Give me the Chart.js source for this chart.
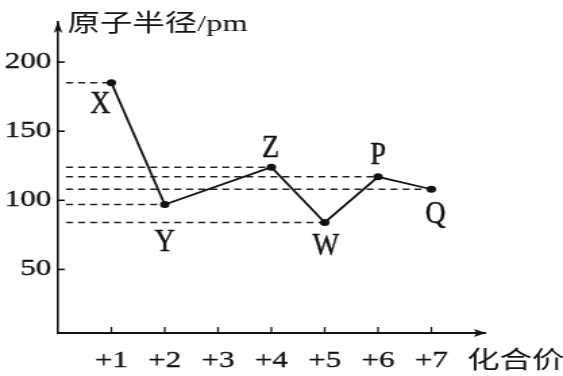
<!DOCTYPE html>
<html>
<head>
<meta charset="utf-8">
<script src="https://cdn.jsdelivr.net/npm/chart.js@4/dist/chart.umd.min.js"></script>
<style>
html, body { margin: 0; padding: 0; background: #fff; overflow: hidden; }
#c { display: block; }
</style>
</head>
<body>
<canvas id="c" width="417" height="376" style="width:563px;height:376px"></canvas>
<script>
// data
const elements = ['X', 'Y', 'Z', 'W', 'P', 'Q'];
const valences = [1, 2, 4, 5, 6, 7];
const radii = [185, 97, 124, 84, 117, 108];
const xTicks = [1, 2, 3, 4, 5, 6, 7];
const xTickLabels = ['+1', '+2', '+3', '+4', '+5', '+6', '+7'];
const yTicks = [50, 100, 150, 200];
const yTitle = '原子半径/pm';
const xTitle = '化合价';

// the picture's text is wide, so the canvas is drawn narrow and stretched by css
const SX = 563 / 417;
const INK = '#111';
const SERIF = "'Liberation Serif', 'Noto Sans CJK SC', serif";

// label offsets from each point, in screen pixels
const labelOffsets = [[-11, 22], [0, 38], [-1, -19], [1, 24], [0, -21], [4, 25]];

const mainData = valences.map((v, i) => ({ x: v, y: radii[i] }));

const dashSets = valences.map((v, i) => ({
    data: [{ x: 0.15, y: radii[i] }, { x: v, y: radii[i] }],
    borderColor: '#222',
    borderWidth: 1.5,
    borderDash: [5.2, 3.7],
    pointRadius: 0,
    order: 2
}));

function inkText(ctx, s, x, y, w) {
    if (w) {
        ctx.lineWidth = w;
        ctx.strokeText(s, x, y);
    }
    ctx.fillText(s, x, y);
}

const decor = {
    id: 'decor',
    afterDraw(chart) {
        const { ctx, chartArea: a, scales: { x, y } } = chart;
        ctx.save();
        ctx.strokeStyle = INK;
        ctx.fillStyle = INK;

        // inward tick marks
        ctx.lineWidth = 1.6;
        yTicks.forEach(v => {
            const py = y.getPixelForValue(v);
            ctx.beginPath(); ctx.moveTo(a.left, py); ctx.lineTo(a.left + 5, py); ctx.stroke();
        });
        ctx.lineWidth = 1.3;
        xTicks.forEach(v => {
            const px = x.getPixelForValue(v);
            ctx.beginPath(); ctx.moveTo(px, a.bottom); ctx.lineTo(px, a.bottom - 6); ctx.stroke();
        });

        // arrow heads
        ctx.beginPath();
        ctx.moveTo(a.left, a.top - 1);
        ctx.lineTo(a.left + 3.2, a.top + 11);
        ctx.lineTo(a.left, a.top + 8);
        ctx.lineTo(a.left - 3.2, a.top + 11);
        ctx.closePath(); ctx.fill();
        ctx.beginPath();
        ctx.moveTo(a.right + 1, a.bottom);
        ctx.lineTo(a.right - 8, a.bottom - 4);
        ctx.lineTo(a.right - 6, a.bottom);
        ctx.lineTo(a.right - 8, a.bottom + 4);
        ctx.closePath(); ctx.fill();

        // axis titles
        ctx.font = '24px ' + SERIF;
        ctx.textBaseline = 'middle';
        ctx.textAlign = 'left';
        inkText(ctx, yTitle, a.left + 7, 25, 0);
        inkText(ctx, xTitle, a.right - 13, 362, 0);

        // point names
        ctx.font = '32px ' + SERIF;
        ctx.textAlign = 'center';
        elements.forEach((n, i) => {
            const px = x.getPixelForValue(valences[i]) + labelOffsets[i][0] / SX;
            const py = y.getPixelForValue(radii[i]) + labelOffsets[i][1];
            ctx.save();
            ctx.translate(px, py);
            ctx.scale(0.88 / SX, 1);
            inkText(ctx, n, 0, 0, 0.5);
            ctx.restore();
        });
        ctx.restore();
    }
};

new Chart(document.getElementById('c'), {
    type: 'line',
    data: {
        datasets: [
            {
                data: mainData,
                borderColor: INK,
                borderWidth: 1.8,
                pointRadius: 3.5,
                pointBackgroundColor: INK,
                pointBorderWidth: 0,
                tension: 0,
                order: 1
            },
            ...dashSets
        ]
    },
    options: {
        responsive: false,
        animation: false,
        events: [],
        layout: { padding: { left: 3, right: 58, top: 22, bottom: 0 } },
        plugins: { legend: { display: false }, tooltip: { enabled: false } },
        scales: {
            x: {
                type: 'linear',
                min: 0,
                max: 8,
                afterBuildTicks: s => { s.ticks = xTicks.map(v => ({ value: v })); },
                afterFit: s => { s.height = 43; },
                grid: { display: false, drawTicks: false },
                border: { display: true, color: INK, width: 2 },
                ticks: {
                    padding: 14,
                    color: INK,
                    textStrokeColor: INK,
                    textStrokeWidth: 0.3,
                    font: { family: SERIF, size: 23 },
                    callback: v => xTickLabels[xTicks.indexOf(v)] || ''
                }
            },
            y: {
                min: 4,
                max: 229,
                afterBuildTicks: s => { s.ticks = yTicks.map(v => ({ value: v })); },
                afterFit: s => { s.width = 40; },
                grid: { display: false, drawTicks: false },
                border: { display: true, color: INK, width: 1.6 },
                ticks: {
                    padding: 5,
                    color: INK,
                    textStrokeColor: INK,
                    textStrokeWidth: 0.3,
                    font: { family: SERIF, size: 23 }
                }
            }
        }
    },
    plugins: [decor]
});
</script>
</body>
</html>
